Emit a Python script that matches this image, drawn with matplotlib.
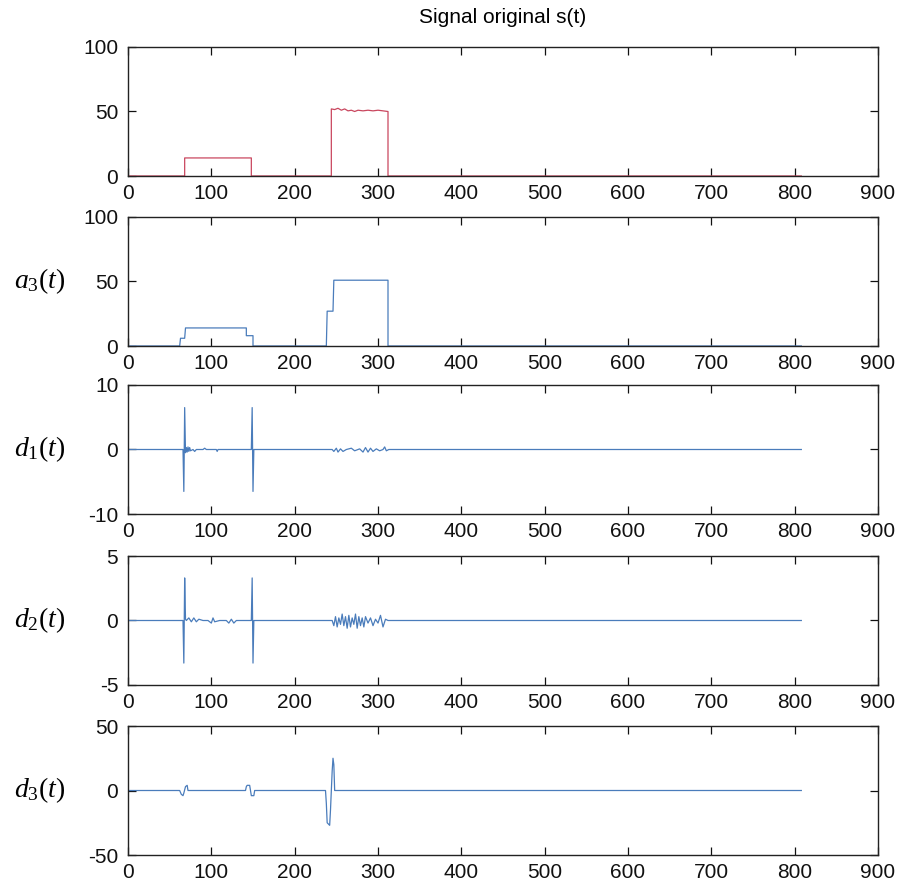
import matplotlib
matplotlib.use("Agg")
import matplotlib.pyplot as plt

plt.rcParams['font.family'] = ['Liberation Sans', 'DejaVu Sans']
plt.rcParams['mathtext.fontset'] = 'custom'
plt.rcParams['mathtext.rm'] = 'Liberation Serif'
plt.rcParams['mathtext.it'] = 'Liberation Serif:italic'
plt.rcParams['axes.unicode_minus'] = False

# ---- data (vertices) ----
s_x = [0, 68, 68, 148, 148, 244, 244, 248, 252, 256, 260, 264, 268, 272, 276, 282,
       288, 294, 300, 306, 312, 312, 808]
s_y = [0, 0, 14, 14, 0, 0, 52, 51.5, 52.5, 51, 52, 50.5, 51, 50, 51, 50.5,
       51, 50.5, 51, 50.5, 50, 0, 0]

a3_x = [0, 62, 63, 68, 69, 142, 142, 150, 150, 238, 239, 246, 247, 312, 312, 808]
a3_y = [0, 0, 6, 6, 14, 14, 8, 8, 0, 0, 27, 27, 51, 51, 0, 0]

d1_x = [0, 66, 67, 68, 69, 70, 71, 72, 73, 74, 75, 78, 80, 82, 90, 92, 94, 106,
        107, 108, 148, 149, 150, 151, 245, 247, 250, 252, 255, 258, 262, 268, 272,
        278, 282, 285, 288, 291, 294, 298, 302, 306, 308, 310, 313, 808]
d1_y = [0, 0, -6.5, 6.5, -0.5, 0.3, -0.4, 0.4, -0.3, 0.3, -0.2, 0, -0.3, 0, 0, 0.2,
        0, 0, -0.3, 0, 0, 6.5, -6.5, 0, 0, -0.3, 0.2, -0.4, 0.1, -0.3, 0, 0.2, -0.2,
        0.1, -0.4, 0.3, -0.4, 0.2, -0.3, 0.1, -0.2, 0, 0.4, -0.2, 0, 0]

d2_x = [0, 66, 67, 68, 69, 70, 73, 76, 79, 82, 85, 90, 96, 100, 102, 104, 110, 118,
        121, 124, 127, 130, 140, 148, 149, 150, 151, 245, 247, 249, 251, 253, 255,
        257, 259, 261, 263, 265, 267, 269, 271, 273, 275, 277, 279, 281, 283, 285,
        288, 291, 294, 297, 300, 303, 306, 309, 312, 808]
d2_y = [0, 0, -3.3, 3.3, 0.1, 0, 0.2, -0.1, 0.2, -0.1, 0.1, 0, 0, -0.2, 0.2, -0.1, 0,
        0, -0.2, 0.1, -0.2, 0, 0, 0, 3.3, -3.3, 0, 0, -0.4, 0.3, -0.5, 0.2, -0.3,
        0.5, -0.4, 0.3, -0.6, 0.4, -0.5, 0.2, -0.3, 0.5, -0.6, 0.3, -0.4, 0.2, -0.5,
        0.3, -0.2, 0.2, -0.4, 0.1, -0.2, 0.4, -0.5, 0.1, 0, 0]

d3_x = [0, 62, 64, 66, 67, 69, 71, 72, 141, 142, 143, 146, 147, 148, 151, 152, 237,
        238, 239, 242, 243, 245, 246, 247, 248, 808]
d3_y = [0, 0, -3, -4, -2, 3, 4, 0, 0, 3, 4, 4, 0, -4, -4, 0, 0,
        -10, -25, -27, -15, 15, 25, 20, 0, 0]

series = [
    (s_x, s_y, [0, 100], [0, 50, 100], None, '#c9475f'),
    (a3_x, a3_y, [0, 100], [0, 50, 100], r'$a_3(t)$', '#4a7cbb'),
    (d1_x, d1_y, [-10, 10], [-10, 0, 10], r'$d_1(t)$', '#4a7cbb'),
    (d2_x, d2_y, [-5, 5], [-5, 0, 5], r'$d_2(t)$', '#4a7cbb'),
    (d3_x, d3_y, [-50, 50], [-50, 0, 50], r'$d_3(t)$', '#4a7cbb'),
]
xticks = [0, 100, 200, 300, 400, 500, 600, 700, 800, 900]

fig = plt.figure(figsize=(9.04, 8.88), dpi=100)
tops = [47, 217, 385, 556, 726]
left = 128 / 904
width = 750 / 904
height = 129 / 888

for (xs, ys, ylim, yt, lab, col), top in zip(series, tops):
    bottom = 1 - (top + 129) / 888
    ax = fig.add_axes([left, bottom, width, height])
    ax.plot(xs, ys, color=col, lw=0.9)
    ax.set_xlim(0, 900)
    ax.set_ylim(*ylim)
    ax.set_xticks(xticks)
    ax.set_yticks(yt)
    ax.tick_params(direction='in', top=True, right=True, labelsize=15,
                   length=6, width=0.9, colors='#111111')
    ax.tick_params(axis='x', pad=6)
    ax.tick_params(axis='y', pad=7)
    for sp in ax.spines.values():
        sp.set_linewidth(1.0)
        sp.set_color('#222222')
    if lab is not None:
        ycen = 1 - (top + 64) / 888
        fig.text(40 / 904, ycen, lab, fontsize=20, ha='center', va='center')
    if top == 47:
        ax.set_title('Signal original s(t)', fontsize=15, pad=17)

fig.savefig('out.png', dpi=100)
